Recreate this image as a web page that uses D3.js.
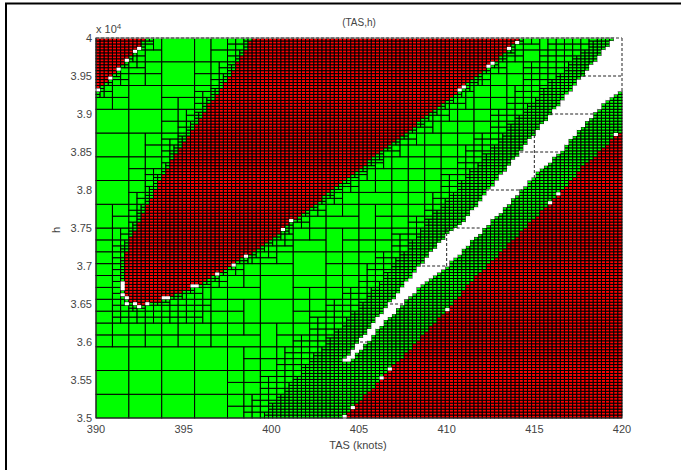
<!DOCTYPE html>
<html><head><meta charset="utf-8">
<script src="https://cdn.jsdelivr.net/npm/d3@7/dist/d3.min.js"></script>
<style>html,body{margin:0;background:#fff}svg{display:block}text{font-family:"Liberation Sans",Arial,sans-serif;fill:#444}</style>
</head><body><svg id="c" width="681" height="470"></svg>
<script>
const xDomain=[390,420], yDomain=[35000,40000];
const xTicks=[390,395,400,405,410,415,420];
const yTicks=[3.5,3.55,3.6,3.65,3.7,3.75,3.8,3.85,3.9,3.95,4];
const xLabel="TAS (knots)", yLabel="h", title="(TAS,h)";
// outlines: [TAS, h]
const redCorner=[[390,40000],[392.91,40000],[391.77,39711],[390.8,39474],[390,39289]];
const redMain=[[398.9,40000],[397.64,39487],[396.5,39145],[395.76,38882],[394.68,38526],[393.37,38000],[391.94,37342],[391.65,37079],[391.54,36947],[391.54,36684],[391.77,36553],[392.11,36487],[393.25,36513],[394.11,36579],[395.53,36724],[396.9,36882],[399.53,37276],[400.61,37474],[404.49,38184],[410.76,39316],[412.59,39645],[414.02,39974],[414.19,40000]];
const whiteBand=[[404.09,35737],[405.06,36026],[406.77,36513],[408.6,37039],[410.02,37408],[411.16,37632],[412.3,37974],[414.19,38500],[415.9,38987],[417.78,39513],[419.49,39974],[419.6,40000],[420,40000],[420,39289],[419.49,39250],[418.35,38987],[416.47,38500],[414.93,38171],[412.76,37632],[411.9,37434],[409.79,36947],[408.08,36645],[406.2,36197],[404.49,35737]];
const redLower=[[404.09,35000],[406.77,35632],[410.02,36421],[411.5,36816],[415.9,37829],[417.78,38303],[420,38789],[420,35000]];
// regions of the green part where the boxes get smaller
const zoneFine=[[399.52,35000],[400.49,35276],[402.21,35724],[403.92,36158],[405.91,36684],[408.76,37513],[411.05,38132],[413.04,38658],[415.32,39250],[417.32,39711],[418.75,40000],[420,40000],[420,35000]];
const zoneMid=[[398.78,35000],[399.92,35434],[401.35,35895],[402.78,36263],[405.34,36816],[408.2,37539],[410.48,38197],[412.47,38789],[414.47,39382],[415.89,39908],[416.24,40000],[420,40000],[420,35000]];
const zoneCoarse=[[397.59,35000],[398.78,35605],[401.24,36158],[403.92,36947],[407.05,37803],[409.62,38526],[412.47,39250],[414.75,39842],[415.32,40000],[420,40000],[420,35000]];
const noseCoarse=[[390,37210],[390,35934],[395.6,35934],[397.9,36263],[395,37000],[391,37500]];
const noseMid=[[390.97,37145],[390.97,36250],[395.65,36250],[396.22,36618],[391.65,36618],[391.65,37145]];
// undecided single boxes seen along the red edges
const specks=[[390.11,39316],[390.8,39461],[391.25,39579],[391.77,39697],[392.17,39816],[392.45,39855],[391.48,36789],[391.48,36737],[391.48,36684],[391.48,36632],[391.71,36566],[391.83,36513],[392.11,36487],[392.4,36474],[392.85,36487],[393.94,36566],[394.11,36566],[395.53,36737],[395.76,36737],[396.9,36882],[397.76,37013],[398.5,37145],[400.61,37474],[401.06,37579],[410.7,39303],[410.99,39342],[412.36,39618],[412.64,39671],[413.61,39855],[414.01,39934],[404.09,35013],[404.6,35132],[406.31,35526],[406.77,35632],[410.02,36421],[415.9,37829],[416.35,37947],[419.66,38724]];
// dashed box edges visible inside the white band: [TAS0,h0,TAS1,h1]
const dashedEdges=[[417.78,39500,420,39500],[415.9,39000,418.35,39000],[414.19,38500,416.47,38500],[412.24,38000,414.3,38000],[410,37500,411.9,37500],[408.6,37000,410,37000],[406.77,36500,407.62,36500],[405.06,36000,405.63,36000],[410,37500,410,37000],[415,38789,415,38158],[420,40000,420,39289]];

const svg=d3.select("#c");
const x=d3.scaleLinear(xDomain,[96,622]), y=d3.scaleLinear(yDomain,[418,38]);
const N=128;
const gx=d3.scaleLinear([0,N],xDomain), gy=d3.scaleLinear([0,N],yDomain);
const cls=[],lim=[];
const px=p=>[x(p[0]),y(p[1])];
const segs=[];
function addSegs(poly){const q=poly.map(px);for(let i=0;i+1<q.length;i++)segs.push([q[i],q[i+1]]);}
addSegs(redCorner.slice(1,5));addSegs(redMain);
function dseg(p,s){const[a,b]=s,dx=b[0]-a[0],dy=b[1]-a[1];let t=((p[0]-a[0])*dx+(p[1]-a[1])*dy)/(dx*dx+dy*dy);t=Math.max(0,Math.min(1,t));return Math.hypot(p[0]-a[0]-t*dx,p[1]-a[1]-t*dy);}
for(let i=0;i<N;i++){cls[i]=[];lim[i]=[];for(let j=0;j<N;j++){
  const c=[gx(i+.5),gy(j+.5)];
  cls[i][j]=d3.polygonContains(whiteBand,c)?"w":(d3.polygonContains(redCorner,c)||d3.polygonContains(redMain,c)||d3.polygonContains(redLower,c))?"r":"g";
  let m=8;
  if(d3.polygonContains(zoneCoarse,c)||d3.polygonContains(noseCoarse,c))m=4;
  if(d3.polygonContains(zoneMid,c)||d3.polygonContains(noseMid,c))m=2;
  if(d3.polygonContains(zoneFine,c))m=1;
  const d=d3.min(segs,s=>dseg(px(c),s));
  if(d<3)m=1;else if(d<7)m=Math.min(m,2);else if(d<15)m=Math.min(m,4);
  lim[i][j]=m;
}}
specks.forEach(p=>{const i=Math.min(N-1,Math.floor(gx.invert(p[0]))),j=Math.min(N-1,Math.floor(gy.invert(p[1])));cls[i][j]="w";});
const cells=[];
function split(i0,i1,j0,j1){
  const w=i1-i0,h=j1-j0;
  let kinds=new Set(),m=8;
  for(let i=i0;i<i1;i++)for(let j=j0;j<j1;j++){kinds.add(cls[i][j]);m=Math.min(m,lim[i][j]);}
  const k=[...kinds][0];
  let must=Math.max(w,h)>8||kinds.size>1||(k==="r"&&Math.max(w,h)>1)||(k==="g"&&Math.max(w,h)>m);
  if(!must||(w===1&&h===1)){cells.push({i0,i1,j0,j1,k});return;}
  const byX=w>h||(w===h&&((i0/w+j0/h)%2===0));
  if(byX){const c=(i0+i1)/2;split(i0,c,j0,j1);split(c,i1,j0,j1);}
  else{const c=(j0+j1)/2;split(i0,i1,j0,c);split(i0,i1,c,j1);}
}
split(0,N,0,N);
const rx=d=>x(gx(d.i0)),ry=d=>y(gy(d.j1)),rw=d=>x(gx(d.i1))-x(gx(d.i0)),rh=d=>y(gy(d.j0))-y(gy(d.j1));
const color={r:"#ff0000",g:"#00ff00",w:"#ffffff"};
const g=svg.append("g");
g.selectAll("rect.box").data(cells.filter(d=>d.k!=="w")).join("rect").attr("class","box")
 .attr("x",rx).attr("y",ry).attr("width",rw).attr("height",rh)
 .attr("fill",d=>color[d.k]).attr("stroke","#000").attr("stroke-width",1);
g.selectAll("rect.wh").data(cells.filter(d=>d.k==="w")).join("rect").attr("class","wh")
 .attr("x",rx).attr("y",ry).attr("width",rw).attr("height",rh).attr("fill","#fff");
g.selectAll("line.dash").data(dashedEdges).join("line").attr("class","dash")
 .attr("x1",d=>x(d[0])).attr("y1",d=>y(d[1])).attr("x2",d=>x(d[2])).attr("y2",d=>y(d[3]))
 .attr("stroke","#222").attr("stroke-dasharray","3,2");
// frame: only top and left edges are visible
svg.append("line").attr("x1",5).attr("x2",681).attr("y1",3.5).attr("y2",3.5).attr("stroke","#000").attr("stroke-width",2);
svg.append("line").attr("x1",6).attr("x2",6).attr("y1",3).attr("y2",470).attr("stroke","#000").attr("stroke-width",2);
svg.append("line").attr("x1",96).attr("x2",622).attr("y1",38).attr("y2",38).attr("stroke","#fff").attr("stroke-width",1.2);
svg.append("line").attr("x1",96).attr("x2",622).attr("y1",38).attr("y2",38).attr("stroke","#333").attr("stroke-width",1).attr("stroke-dasharray","3,2");
svg.append("line").attr("x1",96).attr("x2",622).attr("y1",418).attr("y2",418).attr("stroke","#333");
svg.append("line").attr("x1",96).attr("x2",96).attr("y1",38).attr("y2",418).attr("stroke","#333");
const fs=11;
xTicks.forEach(t=>svg.append("text").attr("x",x(t)).attr("y",433).attr("text-anchor","middle").attr("font-size",fs).text(t));
yTicks.forEach(t=>svg.append("text").attr("x",92).attr("y",y(t*10000)+4).attr("text-anchor","end").attr("font-size",fs).text(t));
svg.append("text").attr("x",96).attr("y",33).attr("font-size",fs).text("x 10").append("tspan").attr("dy",-4).attr("font-size",8).text("4");
svg.append("text").attr("x",359).attr("y",26).attr("text-anchor","middle").attr("font-size",fs-1).text(title);
svg.append("text").attr("x",358).attr("y",449).attr("text-anchor","middle").attr("font-size",fs).text(xLabel);
svg.append("text").attr("transform","translate(60,230) rotate(-90)").attr("text-anchor","middle").attr("font-size",fs).text(yLabel);
</script></body></html>
